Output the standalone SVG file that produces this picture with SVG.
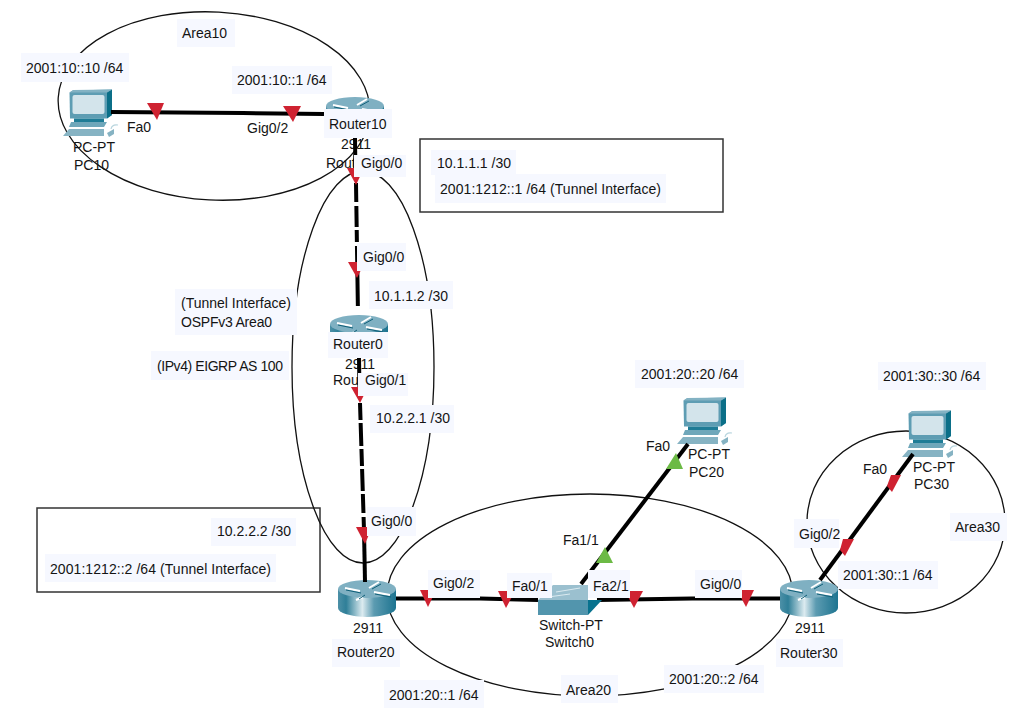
<svg xmlns="http://www.w3.org/2000/svg" width="1025" height="720" viewBox="0 0 1025 720">
<style>
text{font-family:"Liberation Sans",Arial,sans-serif;font-size:14px;fill:#141414}
.bg{fill:#f6f8ff}
.area{fill:none;stroke:#111;stroke-width:1.3}
.box{fill:#fff;stroke:#333;stroke-width:1.5}
.link{fill:none;stroke:#000;stroke-width:4}
.red{fill:#cf2231}
.green{fill:#6cba45}
</style>
<defs>
<linearGradient id="cyl" x1="0" x2="1" y1="0" y2="0">
<stop offset="0" stop-color="#4d90a7"/><stop offset=".14" stop-color="#2f7f98"/><stop offset=".42" stop-color="#dcebf0"/><stop offset=".62" stop-color="#5c9bb1"/><stop offset="1" stop-color="#1d7490"/>
</linearGradient>
<g id="pc">
<polygon points="9.5,12.5 13,10.5 52,9.5 52,35 47,38.5 10,38.5" fill="#5e9db3"/>
<polygon points="47,12.5 52,9.5 52,35 47,38.5" fill="#0b6f88"/>
<polygon points="9.5,12.5 13,10 52,9.5 47,12.5" fill="#83b2c3"/>
<rect x="12.5" y="15" width="32" height="19" rx="2" fill="#d3e4eb"/>
<polygon points="14,38.5 44,38.5 44,42 14,42" fill="#1f7c96"/>
<polygon points="11,42 47,42 44,47 9,47" fill="#6fa7ba"/>
<polygon points="3,56 9,49 44,49 44,56" fill="#86b3c3"/>
<polygon points="47,53 54,49 54,54 49,57" fill="#86b3c3"/>
<path d="M51,49 Q52,44 58,45" fill="none" stroke="#b8d5de" stroke-width="1.2"/>
</g>
<g id="router">
<path d="M0,9 V28 A29,9 0 0 0 58,28 V9 Z" fill="url(#cyl)"/>
<ellipse cx="29" cy="9" rx="29" ry="9" fill="#7fb0c2"/>
<g fill="none" stroke="#fff" stroke-width="2">
<path d="M7,8 L22,11"/><path d="M41,2 L31,8"/><path d="M36,12 L52,15"/><path d="M25,17 L18,20"/>
</g>
<g fill="none" stroke="#0f5f78" stroke-width="1">
<path d="M8,10 L23,13"/><path d="M43,4 L34,9"/><path d="M37,14 L53,17"/><path d="M27,15 L21,19"/>
</g>
</g>
</defs>
<rect class="box" x="420" y="139" width="303" height="73"/>
<rect class="box" x="37" y="508" width="283" height="84"/>
<g id="areas">
<ellipse class="area" cx="214" cy="106" rx="156" ry="94" transform="rotate(3 214 106)"/>
<ellipse class="area" cx="363" cy="367" rx="71" ry="196"/>
<ellipse class="area" cx="590" cy="595" rx="203" ry="101"/>
<ellipse class="area" cx="906" cy="522" rx="99" ry="91"/>
</g>
<g id="PC10"><use href="#pc" x="60" y="80"/><text x="73" y="152">PC-PT</text><text x="74" y="170">PC10</text></g>
<g id="Router10"><use href="#router" x="326" y="97"/><text x="341" y="149">2911</text><text x="326" y="168">Rout</text></g>
<g id="Router0"><use href="#router" x="330" y="315"/><text x="345" y="369">2911</text><text x="333" y="385">Rout</text></g>
<g id="Router20"><use href="#router" x="338" y="580"/><text x="353" y="633">2911</text></g>
<g id="Router30"><use href="#router" x="780" y="580"/><text x="795" y="633">2911</text></g>
<g id="PC20"><use href="#pc" x="674" y="388"/><text x="688" y="459">PC-PT</text><text x="689" y="477">PC20</text></g>
<g id="PC30"><use href="#pc" x="899" y="401"/><text x="913" y="472">PC-PT</text><text x="914" y="489">PC30</text></g>
<g id="connectors">
<path class="link" d="M111,112 L243,113 L324,114"/>
<path class="link" d="M355,138 L355.5,176"/>
<path class="link" stroke-dasharray="19 4 21 3 12 4 60" d="M356,183 L358,315"/>
<path class="link" d="M359,358 L359.5,390"/>
<path class="link" stroke-dasharray="17 3 23 3 17 3 22 3 19 4 60" d="M360,403 L364,530"/>
<path class="link" d="M364,530 L365,582"/>
<path class="link" d="M396,598.5 L480,598.5 L538,600"/>
<path class="link" d="M597,600 L692,598.5 L780,598.5"/>
<path class="link" d="M688,444 L581,584"/>
<path class="link" d="M820,580 L913,454"/>
<polygon class="red" points="147,103 164,103 157,120"/>
<polygon class="red" points="283,106 301,106 293,122"/>
<polygon class="red" points="347,168 364,168 356,185"/>
<polygon class="red" points="348,262 365,262 357,278"/>
<polygon class="red" points="351,387 368,387 360,403"/>
<polygon class="red" points="356,527 372,527 365,544"/>
<polygon class="red" points="420,590 436,590 428,607"/>
<polygon class="red" points="498,591 515,591 506,608"/>
<polygon class="red" points="625,591 643,591 634,608"/>
<polygon class="red" points="737,590 754,590 746,607"/>
<polygon class="red" points="843,539 854,539 845,556 840,550"/>
<polygon class="red" points="891,475 901,475 892,492 887,486"/>
<polygon class="green" points="676,453 683,469 666,469"/>
<polygon class="green" points="605,547 613,563 596,563"/>
</g>
<g id="Switch0">
<polygon points="553,585 588,585 588,600 538,600" fill="#9bc0cf"/>
<rect x="538" y="600" width="50" height="15" fill="#5295ad"/>
<polygon points="588,600 602,600 588,615" fill="#07728e"/>
<path d="M556,592 L580,588 M548,597 L570,594" stroke="#dbeaf0" stroke-width="1" fill="none"/>
<text x="539" y="630">Switch-PT</text><text x="545" y="647">Switch0</text>
</g>
<g id="labels">
<rect class="bg" x="177" y="19" width="58" height="28"/><text x="182" y="38">Area10</text>
<rect class="bg" x="21" y="53" width="108" height="29"/><text x="26" y="73">2001:10::10 /64</text>
<rect class="bg" x="232" y="66" width="100" height="28"/><text x="237" y="85">2001:10::1 /64</text>
<text x="127" y="132">Fa0</text>
<text x="247" y="133">Gig0/2</text>
<rect class="bg" x="324" y="109" width="68" height="29"/><text x="329" y="129">Router10</text>
<rect class="bg" x="354" y="155" width="52" height="22"/><text x="361" y="168">Gig0/0</text>
<rect class="bg" x="431" y="150" width="85" height="25"/><text x="437" y="168">10.1.1.1 /30</text>
<rect class="bg" x="435" y="174" width="231" height="29"/><text x="440" y="194" textLength="221">2001:1212::1 /64 (Tunnel Interface)</text>
<rect class="bg" x="357" y="243" width="49" height="28"/><text x="363" y="262">Gig0/0</text>
<rect class="bg" x="369" y="281" width="84" height="28"/><text x="374" y="301">10.1.1.2 /30</text>
<rect class="bg" x="175" y="289" width="122" height="46"/><text x="181" y="308">(Tunnel Interface)</text><text x="181" y="327" textLength="91">OSPFv3 Area0</text>
<rect class="bg" x="151" y="351" width="138" height="29"/><text x="157" y="371" textLength="126">(IPv4) EIGRP AS 100</text>
<rect class="bg" x="328" y="332" width="60" height="26"/><text x="333" y="349">Router0</text>
<rect class="bg" x="358" y="373" width="50" height="23"/><text x="365" y="385">Gig0/1</text>
<rect class="bg" x="370" y="405" width="84" height="28"/><text x="376" y="423">10.2.2.1 /30</text>
<rect class="bg" x="367" y="507" width="49" height="29"/><text x="371" y="526">Gig0/0</text>
<rect class="bg" x="211" y="518" width="85" height="28"/><text x="217" y="536">10.2.2.2 /30</text>
<rect class="bg" x="45" y="554" width="231" height="28"/><text x="50" y="574" textLength="221">2001:1212::2 /64 (Tunnel Interface)</text>
<rect class="bg" x="428" y="570" width="52" height="28"/><text x="433" y="588">Gig0/2</text>
<rect class="bg" x="507" y="573" width="45" height="25"/><text x="512" y="591">Fa0/1</text>
<rect class="bg" x="588" y="570" width="42" height="28"/><text x="593" y="591">Fa2/1</text>
<text x="563" y="545">Fa1/1</text>
<rect class="bg" x="695" y="570" width="47" height="28"/><text x="700" y="589">Gig0/0</text>
<rect class="bg" x="332" y="639" width="68" height="28"/><text x="337" y="657">Router20</text>
<rect class="bg" x="776" y="639" width="67" height="28"/><text x="780" y="658">Router30</text>
<rect class="bg" x="384" y="680" width="100" height="28"/><text x="389" y="700">2001:20::1 /64</text>
<rect class="bg" x="561" y="675" width="57" height="28"/><text x="566" y="695">Area20</text>
<rect class="bg" x="664" y="665" width="100" height="28"/><text x="669" y="684">2001:20::2 /64</text>
<rect class="bg" x="635" y="360" width="109" height="28"/><text x="641" y="379">2001:20::20 /64</text>
<text x="646" y="451">Fa0</text>
<rect class="bg" x="878" y="362" width="108" height="28"/><text x="883" y="381">2001:30::30 /64</text>
<text x="863" y="474">Fa0</text>
<rect class="bg" x="950" y="513" width="57" height="28"/><text x="955" y="532">Area30</text>
<rect class="bg" x="794" y="519" width="45" height="29"/><text x="799" y="539">Gig0/2</text>
<rect class="bg" x="838" y="561" width="100" height="28"/><text x="843" y="580">2001:30::1 /64</text>
</g>
</svg>
